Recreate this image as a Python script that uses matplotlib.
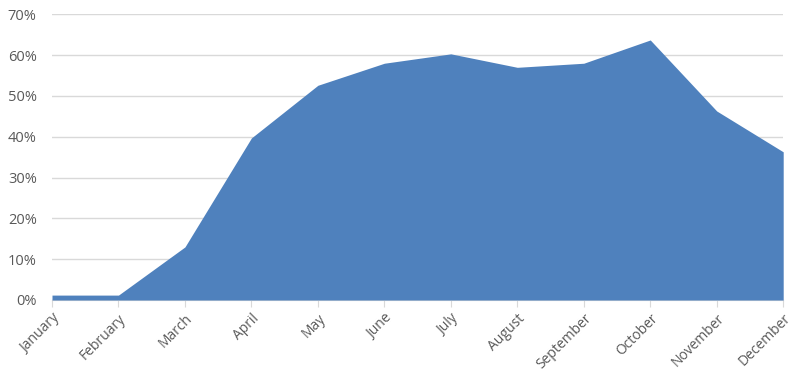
import matplotlib.pyplot as plt
from matplotlib.ticker import PercentFormatter

months = ['January', 'February', 'March', 'April', 'May', 'June', 'July',
          'August', 'September', 'October', 'November', 'December']
values = [1.2, 1.2, 13.0, 39.7, 52.6, 58.0, 60.3, 57.0, 58.0, 63.7, 46.3, 36.3]
y_ticks = [0, 10, 20, 30, 40, 50, 60, 70]

plt.rcParams['font.family'] = ['Open Sans', 'DejaVu Sans']

fig = plt.figure(figsize=(8, 3.81), dpi=100)
ax = fig.add_axes([0.065, 0.2126, 0.914, 0.75])

x = list(range(len(months)))
ax.fill_between(x, values, 0, color='#4F81BD', linewidth=0, zorder=3)

ax.set_xlim(0, len(months) - 1)
ax.set_ylim(0, 70)
ax.set_yticks(y_ticks)
ax.yaxis.set_major_formatter(PercentFormatter(decimals=0))
ax.grid(axis='y', color='#D9D9D9', linewidth=1, zorder=0)

ax.set_xticks(x)
ax.set_xticklabels(months, rotation=45, ha='right', rotation_mode='anchor')

for side in ['top', 'right', 'left']:
    ax.spines[side].set_visible(False)
ax.spines['bottom'].set_color('#D9D9D9')
ax.tick_params(axis='y', length=0, pad=11, labelsize=10.5, labelcolor='#595959')
ax.tick_params(axis='x', length=5, color='#D9D9D9', pad=3, labelsize=10, labelcolor='#595959')

fig.savefig('out.png', dpi=100)
